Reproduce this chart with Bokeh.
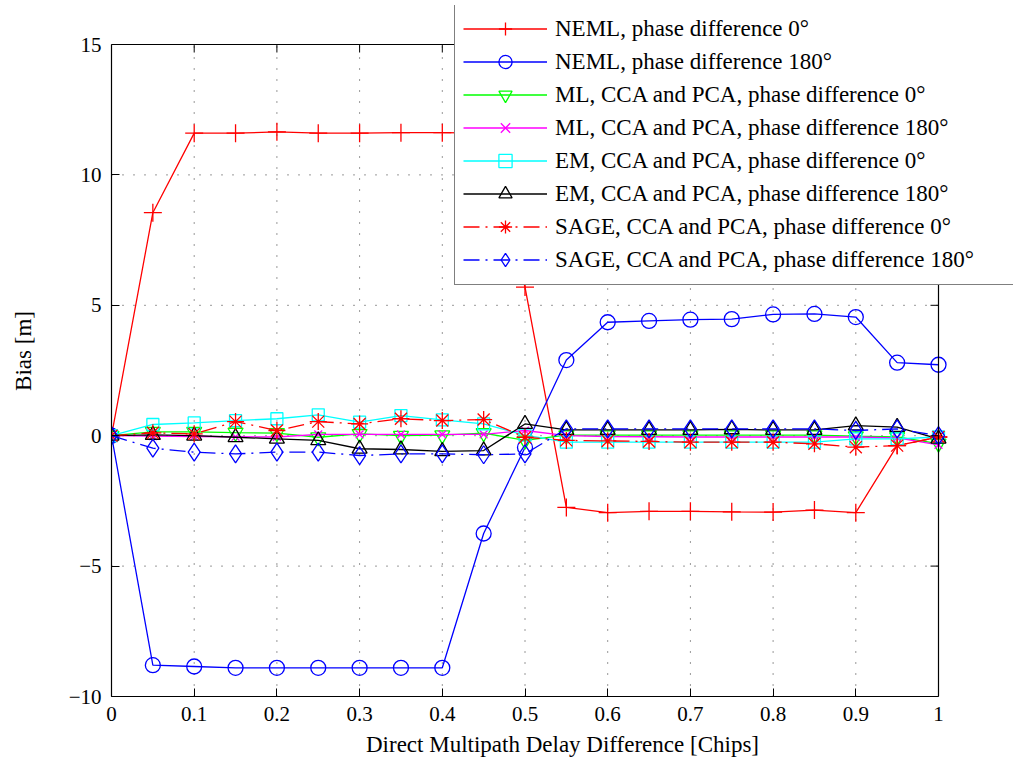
from bokeh.plotting import figure
from bokeh.models import Range1d, FixedTicker
from bokeh.embed import file_html
from bokeh.resources import INLINE

# ---- data ----
delay = [0.0, 0.05, 0.1, 0.15, 0.2, 0.25, 0.3, 0.35, 0.4, 0.45, 0.5,
         0.55, 0.6, 0.65, 0.7, 0.75, 0.8, 0.85, 0.9, 0.95, 1.0]

neml_0 = [0, 8.55, 11.6, 11.6, 11.65, 11.6, 11.6, 11.62, 11.62, 11.6, 5.7,
          -2.75, -2.95, -2.9, -2.9, -2.92, -2.93, -2.85, -2.95, -0.38, -0.05]
neml_180 = [0, -8.8, -8.85, -8.9, -8.9, -8.9, -8.9, -8.9, -8.9, -3.75, -0.45,
            2.9, 4.35, 4.4, 4.45, 4.47, 4.65, 4.67, 4.55, 2.8, 2.72]
ml_0 = [0, 0.15, 0.15, 0.12, 0.1, -0.06, 0.07, 0.0, 0.02, 0.1, -0.18,
        0.02, 0.02, 0.02, 0.02, 0.02, 0.02, 0.02, -0.02, -0.05, -0.3]
ml_180 = [0, -0.02, -0.03, -0.04, -0.05, 0.05, 0.05, 0.05, 0.05, 0.05, 0.2,
          0.0, -0.03, -0.04, -0.05, -0.05, -0.05, -0.05, -0.05, -0.08, -0.35]
em_0 = [0, 0.43, 0.49, 0.58, 0.65, 0.8, 0.52, 0.77, 0.61, 0.45, 0.02,
        -0.25, -0.25, -0.25, -0.25, -0.25, -0.25, -0.25, -0.12, -0.12, -0.05]
em_180 = [0, 0.03, 0.0, -0.06, -0.12, -0.18, -0.5, -0.53, -0.6, -0.57, 0.45,
          0.22, 0.22, 0.22, 0.22, 0.24, 0.22, 0.22, 0.39, 0.33, -0.12]
sage_0 = [0, 0.11, 0.07, 0.54, 0.2, 0.54, 0.45, 0.65, 0.58, 0.62, -0.06,
          -0.18, -0.2, -0.22, -0.25, -0.25, -0.25, -0.31, -0.44, -0.38, -0.05]
sage_180 = [0, -0.48, -0.63, -0.7, -0.63, -0.63, -0.76, -0.7, -0.7, -0.73, -0.7,
            0.26, 0.26, 0.26, 0.26, 0.26, 0.26, 0.26, 0.2, 0.26, 0.0]

labels = [
    "NEML, phase difference 0°",
    "NEML, phase difference 180°",
    "ML, CCA and PCA, phase difference 0°",
    "ML, CCA and PCA, phase difference 180°",
    "EM, CCA and PCA, phase difference 0°",
    "EM, CCA and PCA, phase difference 180°",
    "SAGE, CCA and PCA, phase difference 0°",
    "SAGE, CCA and PCA, phase difference 180°",
]
values = [neml_0, neml_180, ml_0, ml_180, em_0, em_180, sage_0, sage_180]

x_min, x_max = 0.0, 1.0
y_min, y_max = -10, 15
x_ticks = [0.0, 0.1, 0.2, 0.3, 0.4, 0.5, 0.6, 0.7, 0.8, 0.9, 1.0]
x_tick_labels = ["0", "0.1", "0.2", "0.3", "0.4", "0.5", "0.6", "0.7", "0.8", "0.9", "1"]
y_ticks = [-10, -5, 0, 5, 10, 15]
y_tick_labels = ["\u221210", "\u22125", "0", "5", "10", "15"]

# ---- styles / layout ----
colors = ["#ff0000", "#0000ff", "#00ff00", "#ff00ff", "#00ffff", "#000000", "#ff0000", "#0000ff"]
markers = ["cross", "circle", "inverted_triangle", "x", "square", "triangle", "asterisk", "diamond"]
sizes = [18, 15, 15, 11, 12, 15, 17, 18]
dashes = ["solid"] * 6 + ["16 6 2 6", "16 6 2 6"]
FONT = "Liberation Serif"
LW = 1.3

W, H = 1016, 763
BOX_L, BOX_R, BOX_T, BOX_B = 111, 938, 44, 696   # axes box in pixels
FRAME_T, FRAME_R = 5, 1013                       # frame extended so the legend can overhang
box_w, box_h = BOX_R - BOX_L, BOX_B - BOX_T
x_hi = x_max + (x_max - x_min) * (FRAME_R - BOX_R) / box_w
y_hi = y_max + (y_max - y_min) * (BOX_T - FRAME_T) / box_h

p = figure(width=W, height=H, output_backend="svg", toolbar_location=None,
           x_range=Range1d(x_min, x_hi), y_range=Range1d(y_min, y_hi),
           min_border_left=BOX_L, min_border_right=W - FRAME_R,
           min_border_top=FRAME_T, min_border_bottom=H - BOX_B,
           background_fill_color="white", border_fill_color="white")
p.outline_line_color = None
p.xgrid.visible = False
p.ygrid.visible = False

# dotted grid inside the axes box
inner_x = x_ticks[1:-1]
inner_y = y_ticks[1:-1]
p.segment(x0=inner_x, x1=inner_x, y0=[y_min] * len(inner_x), y1=[y_max] * len(inner_x),
          line_color="#333333", line_dash="1 10", line_width=1)
p.segment(x0=[x_min] * len(inner_y), x1=[x_max] * len(inner_y), y0=inner_y, y1=inner_y,
          line_color="#333333", line_dash="1 10", line_width=1)

for lab, yv, c, m, s, d in zip(labels, values, colors, markers, sizes, dashes):
    p.line(delay, yv, line_color=c, line_width=LW, line_dash=d, legend_label=lab)
    p.scatter(delay, yv, marker=m, size=s, line_color=c, fill_color=None,
              line_width=LW, legend_label=lab)

# top and right edges of the box, with inward ticks
p.line([x_min, x_max], [y_max, y_max], line_color="black", line_width=1.2)
p.line([x_max, x_max], [y_min, y_max], line_color="black", line_width=1.2)
p.ray(x=x_ticks, y=[y_max] * len(x_ticks), length=8, length_units="screen",
      angle=-1.5708, line_color="black", line_width=1)
p.ray(x=[x_max] * len(y_ticks), y=y_ticks, length=8, length_units="screen",
      angle=3.14159, line_color="black", line_width=1)

for ax in p.xaxis:
    ax.ticker = FixedTicker(ticks=x_ticks)
    ax.major_label_overrides = dict(zip(x_ticks, x_tick_labels))
    ax.bounds = (x_min, x_max)
for ax in p.yaxis:
    ax.ticker = FixedTicker(ticks=y_ticks)
    ax.major_label_overrides = dict(zip(y_ticks, y_tick_labels))
    ax.bounds = (y_min, y_max)

for ax in [p.xaxis[0], p.yaxis[0]]:
    ax.major_tick_in = 8
    ax.major_tick_out = 0
    ax.minor_tick_line_color = None
    ax.axis_line_color = "black"
    ax.axis_line_width = 1.2
    ax.major_tick_line_color = "black"
    ax.major_label_text_font = FONT
    ax.major_label_text_font_size = "21px"
    ax.major_label_text_color = "black"
    ax.major_label_standoff = 10
    ax.axis_label_text_font = FONT
    ax.axis_label_text_font_size = "23px"
    ax.axis_label_text_font_style = "normal"
    ax.axis_label_text_color = "black"

p.xaxis.axis_label = "Direct Multipath Delay Difference [Chips]"
p.yaxis.axis_label = "Bias [m]"
p.xaxis.axis_label_standoff = 8
p.yaxis.axis_label_standoff = 30

lg = p.legend[0]
lg.location = (454 - BOX_L, BOX_B - 285)
lg.label_text_font = FONT
lg.label_text_font_size = "23px"
lg.label_text_color = "black"
lg.glyph_width = 84
lg.glyph_height = 33
lg.label_height = 33
lg.label_standoff = 8
lg.label_width = 451
lg.spacing = 0
lg.padding = 8
lg.margin = 0
lg.border_line_color = "black"
lg.border_line_width = 1.2
lg.background_fill_color = "white"
lg.background_fill_alpha = 1.0

open("out.html", "w").write(file_html(p, INLINE))
